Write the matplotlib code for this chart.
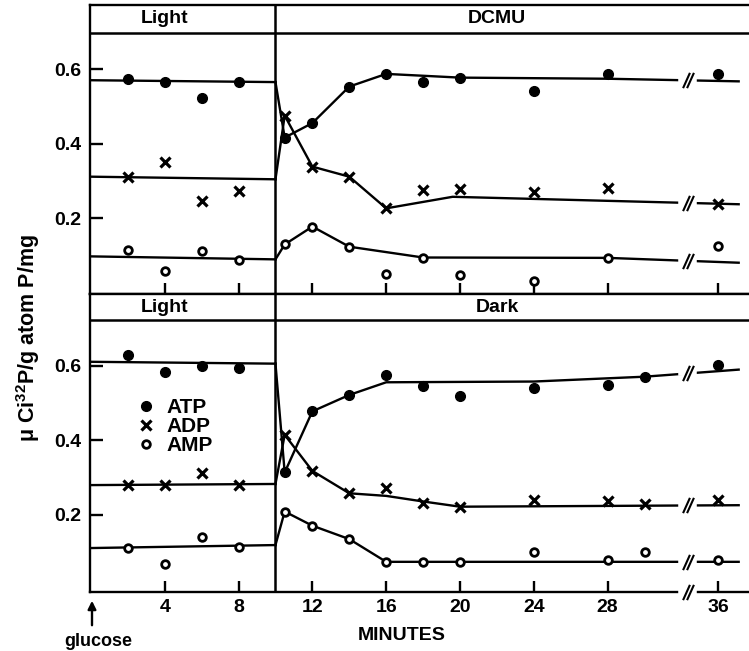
import numpy as np
import matplotlib
matplotlib.use('Agg')
import matplotlib.pyplot as plt

plt.rcParams['font.family'] = ['Liberation Sans Narrow', 'Liberation Sans', 'DejaVu Sans']
plt.rcParams['font.weight'] = 'bold'
plt.rcParams['mathtext.fontset'] = 'custom'
plt.rcParams['mathtext.rm'] = 'Liberation Sans:bold'
plt.rcParams['mathtext.bf'] = 'Liberation Sans:bold'

# Sampling times (minutes after glucose)
t_light = [2, 4, 6, 8]
t_dcmu = [10.5, 12, 14, 16, 18, 20, 24, 28, 36]
t_dark = [10.5, 12, 14, 16, 18, 20, 24, 28, 30, 36]

# Upper panel: light, then DCMU
atp_light_1 = [0.572, 0.564, 0.521, 0.564]
adp_light_1 = [0.309, 0.351, 0.247, 0.273]
amp_light_1 = [0.115, 0.059, 0.112, 0.088]
atp_dcmu = [0.416, 0.455, 0.553, 0.587, 0.566, 0.577, 0.540, 0.588, 0.588]
adp_dcmu = [0.475, 0.338, 0.311, 0.226, 0.275, 0.277, 0.269, 0.280, 0.237]
amp_dcmu = [0.129, 0.177, 0.123, 0.051, 0.094, 0.048, 0.030, 0.094, 0.126]

# Lower panel: light, then dark
atp_light_2 = [0.629, 0.583, 0.600, 0.594]
adp_light_2 = [0.280, 0.280, 0.312, 0.280]
amp_light_2 = [0.110, 0.067, 0.140, 0.113]
atp_dark = [0.313, 0.477, 0.521, 0.575, 0.544, 0.519, 0.540, 0.548, 0.570, 0.602]
adp_dark = [0.414, 0.317, 0.257, 0.272, 0.232, 0.221, 0.239, 0.235, 0.228, 0.239]
amp_dark = [0.208, 0.170, 0.134, 0.073, 0.073, 0.073, 0.100, 0.078, 0.100, 0.078]

# Hand-drawn curves (x, y) for each phase
fit_1 = {
    'ATP': ([0, 10], [0.570, 0.565],
            [10, 10.5, 12, 14, 16, 20, 28, 37.1], [0.565, 0.416, 0.455, 0.553, 0.587, 0.577, 0.574, 0.567]),
    'ADP': ([0, 10], [0.311, 0.304],
            [10, 10.5, 12, 14, 16, 19.6, 37.1], [0.304, 0.475, 0.338, 0.311, 0.226, 0.257, 0.237]),
    'AMP': ([0, 10], [0.097, 0.089],
            [10, 10.5, 12, 14, 18, 28, 37.1], [0.089, 0.129, 0.177, 0.123, 0.094, 0.093, 0.080]),
}
fit_2 = {
    'ATP': ([0, 10], [0.610, 0.605],
            [10, 10.5, 12, 14, 16, 24, 30, 37.1], [0.605, 0.313, 0.477, 0.521, 0.555, 0.557, 0.570, 0.589]),
    'ADP': ([0, 10], [0.279, 0.282],
            [10, 10.5, 12, 14, 16, 18, 20, 37.1], [0.282, 0.414, 0.317, 0.257, 0.250, 0.235, 0.221, 0.225]),
    'AMP': ([0, 10], [0.110, 0.118],
            [10, 10.5, 12, 14, 16, 37.1], [0.118, 0.208, 0.170, 0.134, 0.073, 0.073]),
}

xtick_vals = [4, 8, 12, 16, 20, 24, 28, 36]
ytick_vals = [0.2, 0.4, 0.6]
BREAK = 32.35


def xpos(t):
    # axis is broken between 28 and 36: the last 2 minutes are cut out
    t = np.asarray(t, dtype=float)
    return np.where(t > 33, t - 2, t)


marker_style = {
    'ATP': dict(marker='o', ms=7, mfc='k', mec='k', mew=1),
    'ADP': dict(marker='x', ms=6.5, mec='k', mew=2.3),
    'AMP': dict(marker='o', ms=5.5, mfc='white', mec='k', mew=2),
}
slash = [(-0.45, -1), (0.45, 1)]

fig = plt.figure(figsize=(7.49, 6.51), dpi=100)
ax1 = fig.add_axes([90 / 749, 1 - 294 / 651, 659 / 749, 289 / 651])
ax2 = fig.add_axes([90 / 749, 1 - 592 / 651, 659 / 749, 298 / 651])

panels = [
    (ax1, (-0.004, 0.772), 0.697, 'DCMU', t_dcmu,
     [atp_light_1, adp_light_1, amp_light_1], [atp_dcmu, adp_dcmu, amp_dcmu], fit_1),
    (ax2, (-0.008, 0.792), 0.722, 'Dark', t_dark,
     [atp_light_2, adp_light_2, amp_light_2], [atp_dark, adp_dark, amp_dark], fit_2),
]

for ax, ylim, hdr, label, t_after, light_vals, after_vals, fits in panels:
    ax.set_xlim(-0.05, 35.66)
    ax.set_ylim(*ylim)
    for name in ['ATP', 'ADP', 'AMP']:
        x1, y1, x2, y2 = fits[name]
        ax.plot(xpos(x1), y1, color='k', lw=1.7, zorder=2)
        ax.plot(xpos(x2), y2, color='k', lw=1.7, zorder=2)
        yb = np.interp(BREAK, xpos(x2), y2)
        ax.plot([BREAK - 0.35, BREAK + 0.35], [yb, yb], color='white', lw=4, zorder=3)
        ax.plot([BREAK - 0.13, BREAK + 0.13], [yb, yb], ls='none', marker=slash,
                ms=11, mec='k', mew=1.5, zorder=4)
    for name, lv, av in zip(['ATP', 'ADP', 'AMP'], light_vals, after_vals):
        ax.plot(t_light, lv, ls='none', zorder=5, **marker_style[name])
        ax.plot(xpos(t_after), av, ls='none', zorder=5, label=name, **marker_style[name])

    ax.axhline(hdr, color='k', lw=1.8)
    ax.axvline(10, color='k', lw=1.8)
    ax.text(4, (hdr + ylim[1]) / 2, 'Light', ha='center', va='center', fontsize=14, fontweight='bold')
    ax.text(22, (hdr + ylim[1]) / 2, label, ha='center', va='center', fontsize=14, fontweight='bold')

    ax.spines['right'].set_visible(False)
    for s in ['left', 'top', 'bottom']:
        ax.spines[s].set_linewidth(1.7)
    ax.set_xticks(xpos(xtick_vals))
    ax.set_yticks(ytick_vals)
    ax.set_yticklabels(['0.2', '0.4', '0.6'])
    ax.tick_params(direction='in', width=1.7, labelsize=14)
    ax.tick_params(axis='y', length=9, pad=6)
    ax.tick_params(axis='x', length=8, pad=5)

ax1.set_xticklabels([])
ax2.set_xticklabels([str(v) for v in xtick_vals])

# break on the lower x axis
yb = ax2.get_ylim()[0]
ax2.plot([BREAK - 0.35, BREAK + 0.35], [yb, yb], color='white', lw=4, zorder=6, clip_on=False)
ax2.plot([BREAK - 0.13, BREAK + 0.13], [yb, yb], ls='none', marker=slash, ms=11,
         mec='k', mew=1.5, zorder=7, clip_on=False)

ax2.legend(loc='upper left', bbox_to_anchor=(0.072, 0.65), frameon=False, numpoints=1,
           handlelength=0.8, handletextpad=0.6, labelspacing=0.0, fontsize=15,
           borderpad=0, borderaxespad=0)

fig.text(28 / 749, 1 - 338 / 651, r'μ Ci$^{32}$P/g atom P/mg', rotation=90,
         ha='center', va='center', fontsize=15.5, fontweight='bold')
fig.text(402 / 749, 1 - 636 / 651, 'MINUTES', ha='center', va='center', fontsize=14, fontweight='bold')
fig.text(98 / 749, 1 - 641 / 651, 'glucose', ha='center', va='center', fontsize=13, fontweight='bold')
fig.add_artist(matplotlib.patches.FancyArrowPatch(
    (92 / 749, 1 - 628 / 651), (92 / 749, 1 - 598 / 651), transform=fig.transFigure,
    arrowstyle='-|>', mutation_scale=12, color='k', lw=1.7))

fig.savefig('out.png', dpi=100)
